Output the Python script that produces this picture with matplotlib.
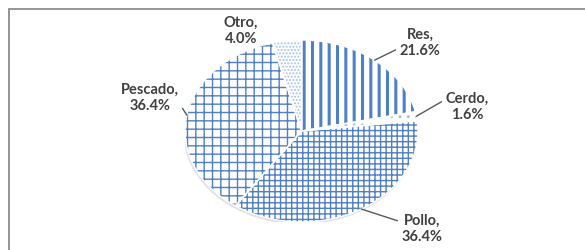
import matplotlib.pyplot as plt
from matplotlib.patches import Ellipse, Rectangle
import numpy as np

labels = ['Res', 'Cerdo', 'Pollo', 'Pescado', 'Otro']
shares = [21.6, 1.6, 36.4, 36.4, 4.0]
hatches = ['||', '..', '+++', '++', '.....']
hatch_colors = ['#4f7fc4', '#a9c1e6', '#4f7fc4', '#4f7fc4', '#a9c1e6']
hatch_widths = [2.2, 1.0, 1.0, 1.0, 1.0]

# label centres in pixels (from top-left) and where the leader meets the text
label_pos = {'Res': (420, 43), 'Cerdo': (467, 107), 'Pollo': (422, 229),
             'Pescado': (150, 98), 'Otro': (241, 31)}
leader_rel = {'Res': (0, 0.3), 'Cerdo': (0, 0.72), 'Pollo': (0, 0.7),
              'Pescado': (1, 0.3), 'Otro': None}

W, H = 585, 251
fig = plt.figure(figsize=(W / 100, H / 100), dpi=100)

# chart area border, cut off at the right and bottom
fig.add_artist(Rectangle((9 / W, -0.1), 1.2, (H - 10) / H + 0.1,
                         transform=fig.transFigure, fill=False,
                         edgecolor='#8c8c8c', linewidth=1.3))

cx, cy, rx, ry = 301.5, 132, 116.5, 91
ax = fig.add_axes([(cx - rx) / W, (H - cy - ry) / H, 2 * rx / W, 2 * ry / H])

# soft shadow under the pie
ax.add_patch(Ellipse((-0.008, -0.018), 2.0, 2.0, color='#e2e2e2', zorder=0))

wedges, _ = ax.pie(shares, startangle=90, counterclock=False,
                   colors=['white'] * len(shares), wedgeprops=dict(linewidth=0))
for w, h, c, lw in zip(wedges, hatches, hatch_colors, hatch_widths):
    w.set_edgecolor(c)
    w.set_linewidth(0)
    w.set_hatch(h)
    if hasattr(w, 'set_hatch_linewidth'):
        w.set_hatch_linewidth(lw)
ax.pie(shares, startangle=90, counterclock=False, colors=['none'] * len(shares),
       wedgeprops=dict(edgecolor='white', linewidth=1.0))

ax.set_aspect('auto')
ax.set_xlim(-1, 1)
ax.set_ylim(-1, 1)

cum = np.cumsum([0] + shares[:-1])
for lab, s, c0 in zip(labels, shares, cum):
    theta = np.deg2rad(90 - 3.6 * (c0 + s / 2))
    px, py = label_pos[lab]
    txt = f'{lab},\n{s:.1f}%'
    rel = leader_rel[lab]
    kw = dict(textcoords='figure pixels', xytext=(px, H - py),
              ha='center', va='center', multialignment='center',
              fontsize=10.5, fontweight='bold', color='#404040',
              family=['Lato', 'DejaVu Sans'], linespacing=1.15,
              annotation_clip=False)
    if rel is not None:
        kw['arrowprops'] = dict(arrowstyle='-', color='#595959', lw=1.0,
                                relpos=rel, shrinkA=1, shrinkB=0)
    ax.annotate(txt, xy=(np.cos(theta), np.sin(theta)), **kw)

fig.savefig('out.png', dpi=100)
